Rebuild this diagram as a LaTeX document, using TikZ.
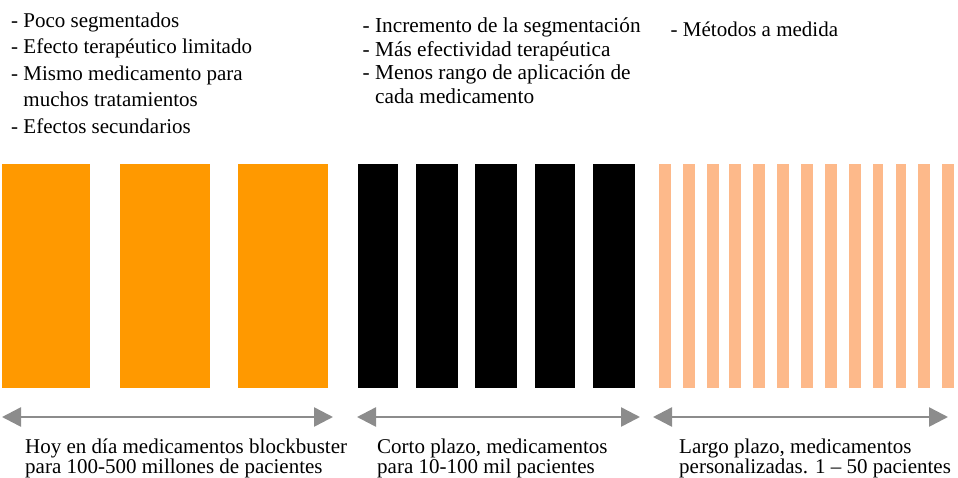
\documentclass[tikz,border=0pt]{standalone}
\usepackage{fontspec}
\setmainfont{Liberation Serif}
\usepackage{tikz}
\usetikzlibrary{arrows.meta,positioning}
\definecolor{blockorange}{RGB}{255,153,0}
\definecolor{fineorange}{RGB}{253,185,138}
\definecolor{spangray}{RGB}{140,140,140}
\tikzset{notelist/.style={
    % The text:
    anchor=north west,
    inner sep=0pt,
    align=left,
    font=\fontsize{21}{26.5}\selectfont
    },
    notelisttight/.style={
    notelist,
    font=\fontsize{21.3}{23.8}\selectfont
    },
    spanlabel/.style={
    anchor=north west,
    inner sep=0pt,
    align=left,
    font=\fontsize{21}{19}\selectfont
    },
    spanarrow/.style={
    draw=spangray,
    line width=2.5pt,
    {Triangle[length=19pt,width=19pt]}-{Triangle[length=19pt,width=19pt]}
    },
}

\begin{document}
\begin{tikzpicture}[x=1pt,y=-1pt]
    \useasboundingbox (0,0) rectangle (958,477);

    % bars
    \foreach \a/\b in {2/90,120/210,238/328}
      \fill[blockorange] (\a,164) rectangle (\b,388);
    \foreach \a/\b in {358/398,416/458,475/517,535/575,593/635}
      \fill[black] (\a,164) rectangle (\b,388);
    \foreach \a/\b in {659/671,683/695,707/719,729/741,753/765,777/789,801/813,825/837,849/861,873/883,896/906,918/930,942/954}
      \fill[fineorange] (\a,164) rectangle (\b,388);

    % notes
    \node (today)  [notelist] at (11,12.7) {- Poco segmentados\\- Efecto terap\'eutico limitado\\- Mismo medicamento para\\\phantom{- }muchos tratamientos\\- Efectos secundarios};
    \node (short)  [notelisttight] at (362.5,17.2) {- Incremento de la segmentaci\'on\\- M\'as efectividad terap\'eutica\\- Menos rango de aplicaci\'on de\\\phantom{- }cada medicamento};
    \node (long)   [notelist] at (670.5,21.7) {- M\'etodos a medida};

    % spans
    \coordinate (todayL) at (2,417);
    \coordinate (todayR) at (333,417);
    \coordinate (shortL) at (357,417);
    \coordinate (shortR) at (640,417);
    \coordinate (longL)  at (653,417);
    \coordinate (longR)  at (948,417);
    \draw[spanarrow] (todayL) -- (todayR);
    \draw[spanarrow] (shortL) -- (shortR);
    \draw[spanarrow] (longL) -- (longR);

    \node (todaytxt) [spanlabel] at (25,438.7) {Hoy en d\'ia medicamentos blockbuster\\para 100-500 millones de pacientes};
    \node (shorttxt) [spanlabel] at (377,438.7) {Corto plazo, medicamentos\\para 10-100 mil pacientes};
    \node (longtxt)  [spanlabel] at (679,438.7) {Largo plazo, medicamentos\\personalizadas. 1 -- 50 pacientes};
\end{tikzpicture}
\end{document}
